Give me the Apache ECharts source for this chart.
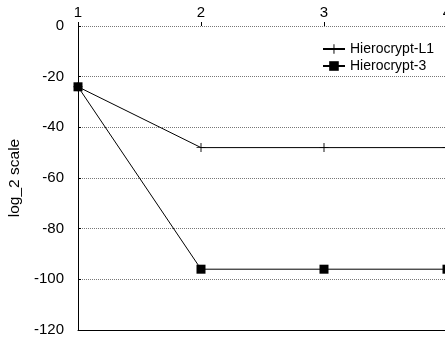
<!DOCTYPE html>
<html><head><meta charset="utf-8">
<script src="https://cdn.jsdelivr.net/npm/echarts@6/dist/echarts.min.js"></script>
<style>html,body{margin:0;padding:0;background:#fff}#c{width:445px;height:343px}</style>
</head><body><div id="c"></div>
<script>
var xValues = [1, 2, 3, 4];
var seriesNames = ['Hierocrypt-L1', 'Hierocrypt-3'];
var l1Values = [-24, -48, -48, -48];
var h3Values = [-24, -96, -96, -96];
var yTicks = [0, -20, -40, -60, -80, -100, -120];

function pairs(xs, ys) { return xs.map(function (x, i) { return [x, ys[i]]; }); }
var font = 'Liberation Sans, Arial, Helvetica, sans-serif';
var plusPath = 'path://M4.5,0H5.5V4.5H10V5.5H5.5V10H4.5V5.5H0V4.5H4.5Z';

var chart = echarts.init(document.getElementById('c'), null, {renderer: 'canvas'});
chart.setOption({
  animation: false,
  backgroundColor: '#fff',
  textStyle: {fontFamily: font},
  grid: {left: 78, width: 369, top: 26, bottom: 13, containLabel: false, outerBoundsMode: 'none'},
  legend: {
    orient: 'vertical', right: 6, top: 37, itemGap: 3, itemWidth: 22, itemHeight: 12,
    textStyle: {fontFamily: font, fontSize: 14, color: '#000'},
    data: seriesNames
  },
  xAxis: [{
    type: 'value', position: 'top', min: 1, max: 4, interval: 1,
    axisLine: {show: false},
    axisTick: {show: true, inside: false, length: 4, lineStyle: {color: '#000'}},
    axisLabel: {color: '#000', fontSize: 15, fontFamily: font, margin: 6},
    splitLine: {show: false}
  }, {
    type: 'value', position: 'bottom', min: 1, max: 4, interval: 1,
    axisLine: {show: true, onZero: false, lineStyle: {color: '#000', width: 1}},
    axisTick: {show: false}, axisLabel: {show: false}, splitLine: {show: false}
  }],
  yAxis: {
    type: 'value', min: yTicks[yTicks.length - 1], max: yTicks[0], interval: 20,
    name: 'log_2 scale', nameLocation: 'middle', nameGap: 47, nameRotate: 90,
    nameTextStyle: {color: '#000', fontSize: 15.5, fontFamily: font},
    axisLine: {show: true, onZero: false, lineStyle: {color: '#000', width: 1}},
    axisTick: {show: true, inside: true, length: 3, lineStyle: {color: '#000'}},
    axisLabel: {color: '#000', fontSize: 15, fontFamily: font, margin: 14},
    splitLine: {show: true, lineStyle: {color: '#777', type: [1, 1], width: 1}}
  },
  series: [{
    name: seriesNames[0], type: 'line', data: pairs(xValues, l1Values),
    symbol: plusPath, symbolSize: 9, color: '#000',
    lineStyle: {color: '#000', width: 1}, itemStyle: {color: '#000'}
  }, {
    name: seriesNames[1], type: 'line', data: pairs(xValues, h3Values),
    symbol: 'rect', symbolSize: 9, color: '#000',
    lineStyle: {color: '#000', width: 1}, itemStyle: {color: '#000'}
  }]
});
</script></body></html>
